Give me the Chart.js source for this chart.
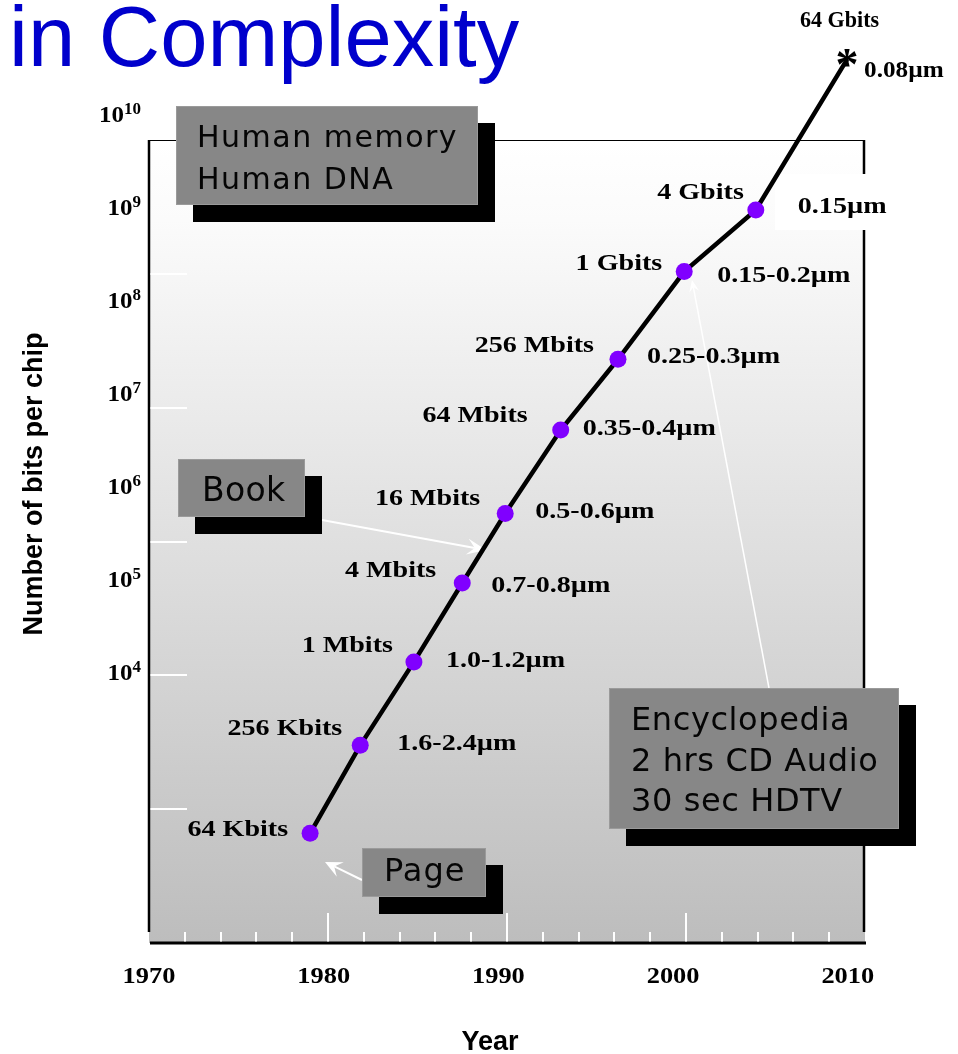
<!DOCTYPE html>
<html><head><meta charset="utf-8">
<script src="https://cdn.jsdelivr.net/npm/chart.js@4/dist/chart.umd.min.js"></script>
<style>html,body{margin:0;padding:0;background:#fff;}#wrap{position:relative;width:958px;height:1054px;}</style>
</head><body><div id="wrap"><canvas id="c" width="958" height="1054"></canvas></div>
<script>
// ---- data ----
const chipNames = ['64 Kbits','256 Kbits','1 Mbits','4 Mbits','16 Mbits','64 Mbits','256 Mbits','1 Gbits','4 Gbits','64 Gbits'];
const years = [1979.0,1981.8,1984.8,1987.5,1989.9,1993.0,1996.2,1999.9,2003.9,2009.0];
const bitsPerChip = [6.6e4,3.0e5,1.26e6,4.9e6,1.62e7,6.8e7,2.3e8,1.04e9,3.0e9,4.0e10];
const featureSizes = ['','1.6-2.4µm','1.0-1.2µm','0.7-0.8µm','0.5-0.6µm','0.35-0.4µm','0.25-0.3µm','0.15-0.2µm','0.15µm','0.08µm'];
const yearTicks = [1970,1980,1990,2000,2010];
const yExponents = [4,5,6,7,8,9,10];
const titleText = 'in Complexity';
const xTitle = 'Year';
const yTitle = 'Number of bits per chip';

// ---- label placement (offsets from each point, px) ----
const nameOffsets = [[-22,3],[-18,-10],[-21,-10],[-26,-6],[-25,-8],[-33,-8],[-24,-7],[-22,-2],[-12,-11],[32,-32]];
const featOffsets = [[0,0],[37,5],[32,5],[29,9],[30,5],[22,5],[29,4],[33,10],[42,3],[17,18]];

function sText(ctx, txt, x, y, align, font, sx) {
  ctx.save(); ctx.font = font;
  const w = ctx.measureText(txt).width * sx;
  const x0 = align === 'right' ? x - w : align === 'center' ? x - w / 2 : x;
  ctx.translate(x0, y); ctx.scale(sx, 1); ctx.textAlign = 'left'; ctx.textBaseline = 'alphabetic';
  ctx.fillText(txt, 0, 0); ctx.restore();
}
function arrow(ctx, x1, y1, x2, y2, lw, len, hw) {
  const a = Math.atan2(y2 - y1, x2 - x1);
  ctx.save(); ctx.strokeStyle = '#fff'; ctx.fillStyle = '#fff'; ctx.lineWidth = lw;
  ctx.beginPath(); ctx.moveTo(x1, y1); ctx.lineTo(x2 - Math.cos(a) * len * 0.6, y2 - Math.sin(a) * len * 0.6); ctx.stroke();
  ctx.beginPath(); ctx.moveTo(x2, y2);
  ctx.lineTo(x2 - Math.cos(a) * len - Math.sin(a) * hw, y2 - Math.sin(a) * len + Math.cos(a) * hw);
  ctx.lineTo(x2 - Math.cos(a) * len * 0.6, y2 - Math.sin(a) * len * 0.6);
  ctx.lineTo(x2 - Math.cos(a) * len + Math.sin(a) * hw, y2 - Math.sin(a) * len - Math.cos(a) * hw);
  ctx.closePath(); ctx.fill(); ctx.restore();
}
function box(ctx, x, y, w, h, lines, font, ls, tx, baselines) {
  ctx.save();
  ctx.fillStyle = '#000'; ctx.fillRect(x + 17, y + 17, w, h);
  ctx.fillStyle = '#878787'; ctx.fillRect(x, y, w, h);
  ctx.strokeStyle = '#9a9a9a'; ctx.lineWidth = 1; ctx.strokeRect(x + 0.5, y + 0.5, w - 1, h - 1);
  ctx.fillStyle = '#050505'; ctx.font = font; ctx.textAlign = 'left'; ctx.textBaseline = 'alphabetic';
  try { ctx.letterSpacing = ls + 'px'; } catch (e) {}
  lines.forEach((t, i) => ctx.fillText(t, tx, baselines[i]));
  ctx.restore();
}

const backPlugin = {
  id: 'back',
  beforeDatasetsDraw(chart) {
    const ctx = chart.ctx; const {left, top, right, bottom} = chart.chartArea;
    const xs = chart.scales.x, ys = chart.scales.y;
    ctx.save();
    const g = ctx.createLinearGradient(0, top, 0, bottom);
    g.addColorStop(0, '#ffffff'); g.addColorStop(0.1, '#fbfbfb'); g.addColorStop(1, '#bdbdbd');
    ctx.fillStyle = g; ctx.fillRect(left, top, right - left, bottom - top);
    // frame
    ctx.strokeStyle = '#000';
    ctx.lineWidth = 1; ctx.beginPath(); ctx.moveTo(left, top + 0.5); ctx.lineTo(right, top + 0.5); ctx.stroke();
    ctx.lineWidth = 2.5;
    ctx.beginPath(); ctx.moveTo(left, top); ctx.lineTo(left, bottom - 11); ctx.stroke();
    ctx.beginPath(); ctx.moveTo(right - 1, top); ctx.lineTo(right - 1, bottom - 11); ctx.stroke();
    ctx.lineWidth = 3;
    ctx.beginPath(); ctx.moveTo(left + 1, bottom); ctx.lineTo(right + 1, bottom); ctx.stroke();
    // white label background
    ctx.fillStyle = '#fff'; ctx.fillRect(775, 174, 122, 56);
    // white ticks
    ctx.strokeStyle = '#fff'; ctx.lineWidth = 2;
    for (let yr = 1972; yr < 2010; yr += 2) {
      const px = Math.round(xs.getPixelForValue(yr));
      const major = yr % 10 === 0;
      ctx.beginPath(); ctx.moveTo(px, bottom - 1.5); ctx.lineTo(px, bottom - (major ? 30 : 11)); ctx.stroke();
    }
    for (let k = 5; k <= 9; k++) {
      const py = Math.round(ys.getPixelForValue(Math.pow(10, k)));
      ctx.beginPath(); ctx.moveTo(left + 1.5, py); ctx.lineTo(left + 38, py); ctx.stroke();
    }
    // annotation arrows
    arrow(ctx, 322, 520, 486, 550, 2, 19, 8);
    arrow(ctx, 362, 880, 325, 862, 2, 17, 8);
    arrow(ctx, 769, 688, 692, 280, 1.5, 12, 5);
    ctx.restore();
  },
  afterDraw(chart) {
    const ctx = chart.ctx; const xs = chart.scales.x; const yl = chart.scales.yLab;
    const pts = chart.getDatasetMeta(0).data;
    const last = pts.length - 1;
    ctx.save();
    ctx.fillStyle = '#000';
    // asterisk marker at the last point
    ctx.font = 'bold 46px "Liberation Serif"'; ctx.textAlign = 'center'; ctx.textBaseline = 'alphabetic';
    ctx.fillText('*', pts[last].x, pts[last].y + 21);
    const serif = 'bold 24px "Liberation Serif"';
    pts.forEach((p, i) => {
      const sx = i === last ? 0.92 : 1.17;
      sText(ctx, chipNames[i], p.x + nameOffsets[i][0], p.y + nameOffsets[i][1], 'right', serif, sx);
      if (featureSizes[i]) sText(ctx, featureSizes[i], p.x + featOffsets[i][0], p.y + featOffsets[i][1], 'left', serif, i === last ? 1.05 : 1.17);
    });
    // x tick labels
    yearTicks.forEach(yr => sText(ctx, String(yr), xs.getPixelForValue(yr) - (yr - 1970) * 0.43, 983, 'center', serif, 1.1));
    // y tick labels (10^n)
    yExponents.forEach(e => {
      const by = yl.getPixelForValue(e);
      ctx.font = 'bold 17px "Liberation Serif"';
      const ws = ctx.measureText(String(e)).width;
      ctx.font = serif;
      const wb = ctx.measureText('10').width * 1.04;
      const x0 = 141 - ws - wb;
      sText(ctx, '10', x0, by, 'left', serif, 1.04);
      sText(ctx, String(e), x0 + wb, by - 8, 'left', 'bold 17px "Liberation Serif"', 1.0);
    });
    // axis titles
    ctx.font = 'bold 27px "Liberation Sans"'; ctx.textAlign = 'center'; ctx.textBaseline = 'alphabetic';
    ctx.fillText(xTitle, 490, 1050);
    ctx.save(); ctx.translate(42, 484); ctx.rotate(-Math.PI / 2); ctx.fillText(yTitle, 0, 0); ctx.restore();
    // slide title
    ctx.fillStyle = '#0000cc'; ctx.font = '85px "Liberation Sans"'; ctx.textAlign = 'left';
    ctx.fillText(titleText, 9, 66);
    ctx.restore();
    // boxes
    box(ctx, 176, 106, 302, 99, ['Human memory', 'Human DNA'], '30px "DejaVu Sans"', 1.5, 197, [147, 189]);
    box(ctx, 178, 459, 127, 58, ['Book'], '33px "DejaVu Sans"', 0.3, 202, [501]);
    box(ctx, 609, 688, 290, 141, ['Encyclopedia', '2 hrs CD Audio', '30 sec HDTV'], '32px "DejaVu Sans"', 0.6, 631, [730, 771, 811]);
    box(ctx, 362, 848, 124, 49, ['Page'], '32px "DejaVu Sans"', 1, 384, [881]);
  }
};

const lastIdx = years.length - 1;
new Chart(document.getElementById('c'), {
  type: 'line',
  data: {
    datasets: [{
      data: years.map((x, i) => ({x: x, y: bitsPerChip[i]})),
      borderColor: '#000', borderWidth: 4.5, tension: 0, clip: false,
      pointRadius: years.map((_, i) => i === lastIdx ? 0 : 8.5),
      pointBackgroundColor: '#8000ff', pointBorderWidth: 0, pointBorderColor: '#8000ff'
    }]
  },
  options: {
    responsive: false, animation: false, events: [],
    layout: {padding: {left: 149, right: 93, top: 140, bottom: 111}},
    scales: {
      x: {type: 'linear', min: 1970, max: 2010, display: false},
      y: {type: 'logarithmic', min: 1e4, max: 1e10, display: false},
      yLab: {type: 'linear', min: 1.172, max: 9.806, display: false, position: 'left'}
    },
    plugins: {legend: {display: false}, tooltip: {enabled: false}, title: {display: false}}
  },
  plugins: [backPlugin]
});
</script></body></html>
